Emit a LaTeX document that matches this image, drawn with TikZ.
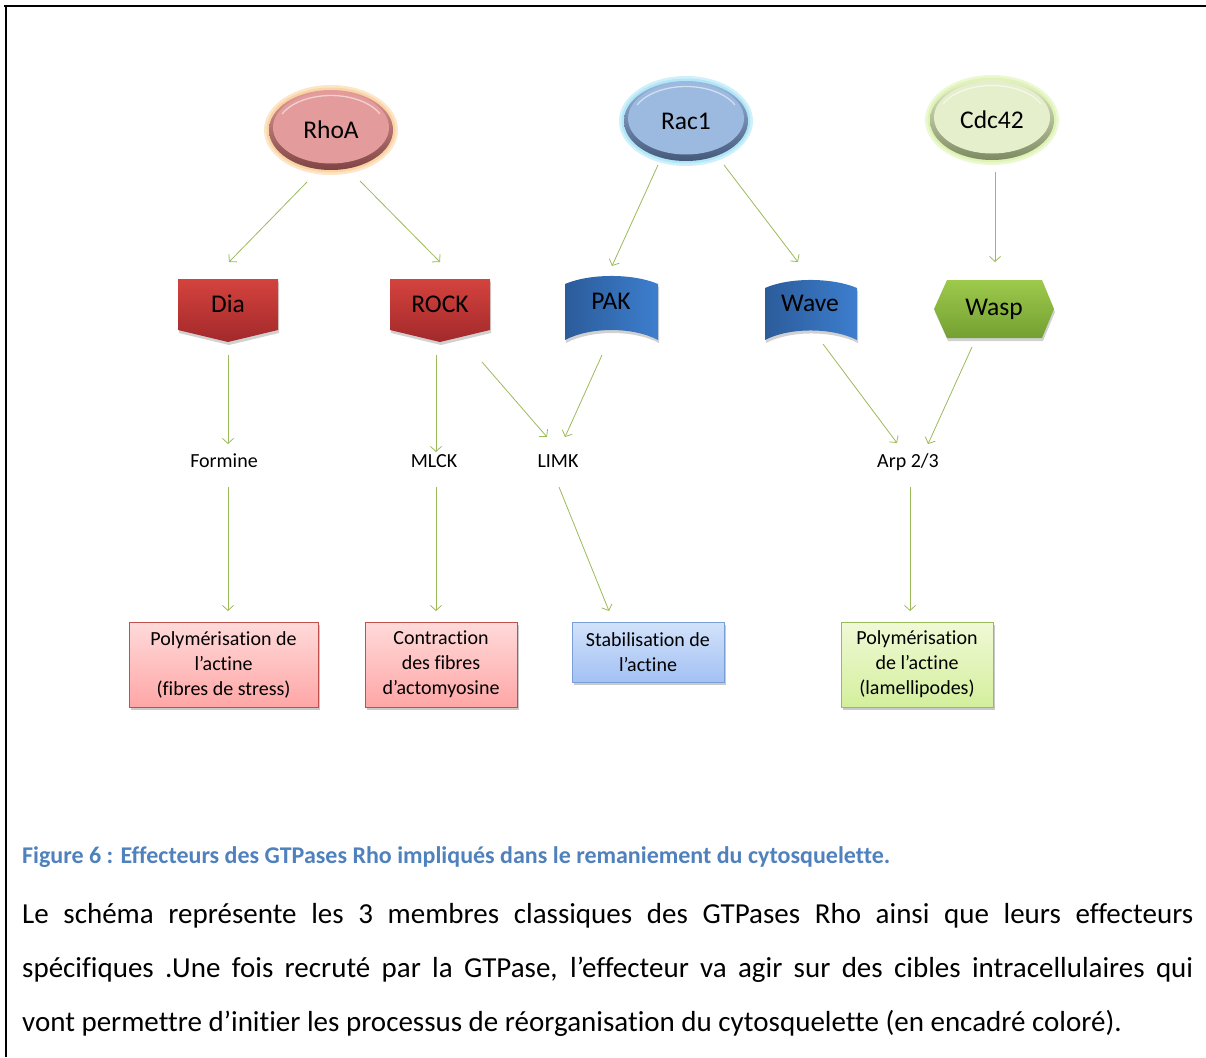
\documentclass[tikz,border=0pt]{standalone}
\usepackage{fontspec}
\setmainfont{Carlito}[Ligatures=NoCommon]
\usetikzlibrary{arrows.meta,shadows}
\definecolor{arrowgreen}{HTML}{9BBB59}
\definecolor{capblue}{HTML}{4F81BD}
\definecolor{rhobase}{HTML}{E39C9B}
\definecolor{rhorim}{HTML}{7E4443}
\definecolor{rhoglow}{HTML}{FAD09A}
\definecolor{racbase}{HTML}{9CB9E0}
\definecolor{racrim}{HTML}{45597A}
\definecolor{racglow}{HTML}{A8E4F5}
\definecolor{cdcbase}{HTML}{E5EFCC}
\definecolor{cdcrim}{HTML}{7E8A62}
\definecolor{cdcglow}{HTML}{DCF2AE}
\definecolor{redtop}{HTML}{D4433E}
\definecolor{redbot}{HTML}{A2292A}
\definecolor{blueL}{HTML}{2B5C9A}
\definecolor{blueR}{HTML}{3D7ECE}
\definecolor{greentop}{HTML}{9DC94C}
\definecolor{greenbot}{HTML}{74A032}
\definecolor{pinktop}{HTML}{FFDADA}
\definecolor{pinkbot}{HTML}{FFA6A6}
\definecolor{pinkdraw}{HTML}{C0504D}
\definecolor{lbtop}{HTML}{D2E2FA}
\definecolor{lbbot}{HTML}{A3C1F4}
\definecolor{lbdraw}{HTML}{7A9FD6}
\definecolor{lgtop}{HTML}{F0F9D6}
\definecolor{lgbot}{HTML}{D3EF9C}
\definecolor{lgdraw}{HTML}{9BBB59}
\newcommand\gtpase[7]{%
  \fill[#6, opacity=.55] (#2,#3) ellipse [x radius=67, y radius=45];
  \fill[#6, opacity=.8] (#2,#3) ellipse [x radius=64.5, y radius=42.5];
  \shade[top color=#4, bottom color=#5] (#2,#3) ellipse [x radius=62, y radius=40];
  \fill[#4] (#2,#3-2.5) ellipse [x radius=58, y radius=36];
  \draw[white, opacity=.55, line width=1.3pt] (#2,#3-2.5) ++(205:54 and 32) arc[start angle=205, end angle=335, x radius=54, y radius=32];
  \node[shp] (#1) at (#2,#3) {#7};}
\begin{document}
\begin{tikzpicture}[x=1pt,y=-1pt,
  arr/.style={draw=arrowgreen, line width=0.8pt, -{Straight Barb[length=5pt,width=11pt]}},
  lbl/.style={font=\fontsize{20}{25}\selectfont, inner sep=0pt, text height=13.5pt, text depth=0pt},
  shp/.style={font=\fontsize{25.5}{30}\selectfont, inner sep=0pt},
  resbox/.style={draw, line width=0.8pt, align=center, inner sep=0pt,
    font=\fontsize{20}{25}\selectfont, minimum width=189pt,
    drop shadow={shadow xshift=1.5pt, shadow yshift=-2.5pt, opacity=.3, fill=black!70}},
  shadowfill/.style={fill=black, opacity=.18}]
\useasboundingbox (0,0) rectangle (1206,1057);
% frame
\draw[line width=2.5pt] (4,6) -- (1206,6);
\draw[line width=2pt] (6,5) -- (6,1057);

% GTPases
\gtpase{rhoa}{331}{130}{rhobase}{rhorim}{rhoglow}{RhoA}
\gtpase{rac1}{686}{121}{racbase}{racrim}{racglow}{Rac1}
\gtpase{cdc42}{992}{120}{cdcbase}{cdcrim}{cdcglow}{Cdc42}

% Dia
\fill[shadowfill] (179,282) -- (279,282) -- (279,333) -- (229,345) -- (179,333) -- cycle;
\shade[top color=redtop, bottom color=redbot] (178,279) -- (278,279) -- (278,330) -- (228,342) -- (178,330) -- cycle;
\node[shp] (dia) at (228,304) {Dia};
% ROCK
\fill[shadowfill] (391,282) -- (491,282) -- (491,333) -- (441,345) -- (391,333) -- cycle;
\shade[top color=redtop, bottom color=redbot] (390,279) -- (490,279) -- (490,330) -- (440,342) -- (390,330) -- cycle;
\node[shp] (rock) at (440,304) {ROCK};
% PAK
\fill[shadowfill] (566,287) .. controls (591,276.3) and (634,276.3) .. (659,287) -- (659,343) .. controls (634,329.7) and (591,329.7) .. (566,343) -- cycle;
\shade[left color=blueL, right color=blueR] (565,284) .. controls (590,273.3) and (633,273.3) .. (658,284) -- (658,340) .. controls (633,326.7) and (590,326.7) .. (565,340) -- cycle;
\node[shp] (pak) at (611,301) {PAK};
% Wave
\fill[shadowfill] (766,291) .. controls (790,280.3) and (833,280.3) .. (858,291) -- (858,343) .. controls (833,330.3) and (790,330.3) .. (766,343) -- cycle;
\shade[left color=blueL, right color=blueR] (765,288) .. controls (789,277.3) and (832,277.3) .. (857,288) -- (857,340) .. controls (832,327.3) and (789,327.3) .. (765,340) -- cycle;
\node[shp] (wave) at (810,303) {Wave};
% Wasp
\fill[shadowfill] (935,312) -- (948,283) -- (1043,283) -- (1055,312) -- (1043,341) -- (948,341) -- cycle;
\shade[top color=greentop, bottom color=greenbot] (934,309) -- (947,280) -- (1042,280) -- (1054,309) -- (1042,338) -- (947,338) -- cycle;
\node[shp] (wasp) at (994,309) {Wasp};

% intermediate labels
\node[lbl] (formine) at (224,461) {Formine};
\node[lbl] (mlck) at (434,461) {MLCK};
\node[lbl] (limk) at (558,461) {LIMK};
\node[lbl] (arp) at (908,461) {Arp 2/3};

% result boxes
\node[resbox, draw=pinkdraw, top color=pinktop, bottom color=pinkbot, minimum height=85pt] (b1) at (223.5,664.5) {Polymérisation de\\l’actine\\(fibres de stress)};
\node[resbox, draw=pinkdraw, top color=pinktop, bottom color=pinkbot, minimum width=152pt, minimum height=85pt] (b2) at (441,664.5) {Contraction\\des fibres\\d’actomyosine};
\node[resbox, draw=lbdraw, top color=lbtop, bottom color=lbbot, minimum width=152pt, minimum height=60pt] (b3) at (648,652) {Stabilisation de\\l’actine};
\node[resbox, draw=lgdraw, top color=lgtop, bottom color=lgbot, minimum width=152pt, minimum height=85pt] (b4) at (917,664.5) {Polymérisation\\de l’actine\\(lamellipodes)};

% connectors
\draw[arr] ([shift={(-24,52)}]rhoa.center) -- ([shift={(1,-42)}]dia.center);
\draw[arr] ([shift={(29,51)}]rhoa.center) -- ([shift={(0,-42)}]rock.center);
\draw[arr] ([shift={(-28,44)}]rac1.center) -- ([shift={(1,-35)}]pak.center);
\draw[arr] ([shift={(38,44)}]rac1.center) -- ([shift={(-12,-41)}]wave.center);
\draw[arr] ([shift={(3,52)}]cdc42.center) -- ([shift={(1,-47)}]wasp.center);
\draw[arr] ([shift={(4,-106)}]formine.center) -- ([shift={(4,-17)}]formine.center);
\draw[arr] ([shift={(2,-106)}]mlck.center) -- ([shift={(2,-9)}]mlck.center);
\draw[arr] ([shift={(42,58)}]rock.center) -- ([shift={(-11,-24)}]limk.center);
\draw[arr] ([shift={(-9,54)}]pak.center) -- ([shift={(7,-24)}]limk.center);
\draw[arr] ([shift={(13,41)}]wave.center) -- ([shift={(-11,-18)}]arp.center);
\draw[arr] ([shift={(-22,38)}]wasp.center) -- ([shift={(20,-17)}]arp.center);
\draw[arr] ([shift={(4,26)}]formine.center) -- ([shift={(4.5,-53.5)}]b1.center);
\draw[arr] ([shift={(2,26)}]mlck.center) -- ([shift={(-5,-53.5)}]b2.center);
\draw[arr] ([shift={(1,26)}]limk.center) -- ([shift={(-39,-41)}]b3.center);
\draw[arr] ([shift={(2,26)}]arp.center) -- ([shift={(-7,-53.5)}]b4.center);

% caption and text
\node[anchor=base west, inner sep=0pt, text=capblue, font=\bfseries\fontsize{24}{28}\selectfont] (cap) at (22,863) {Figure 6 : Effecteurs des GTPases Rho impliqués dans le remaniement du cytosquelette.};
\node[anchor=base west, inner sep=0pt, font=\fontsize{29}{54}\selectfont] (body) at (22,923) {\parbox[t]{1171pt}{Le schéma représente les 3 membres classiques des GTPases Rho ainsi que leurs effecteurs\linebreak spécifiques .Une fois recruté par la GTPase, l’effecteur va agir sur des cibles intracellulaires qui\linebreak vont permettre d’initier les processus de réorganisation du cytosquelette (en encadré coloré).}};
\end{tikzpicture}
\end{document}
